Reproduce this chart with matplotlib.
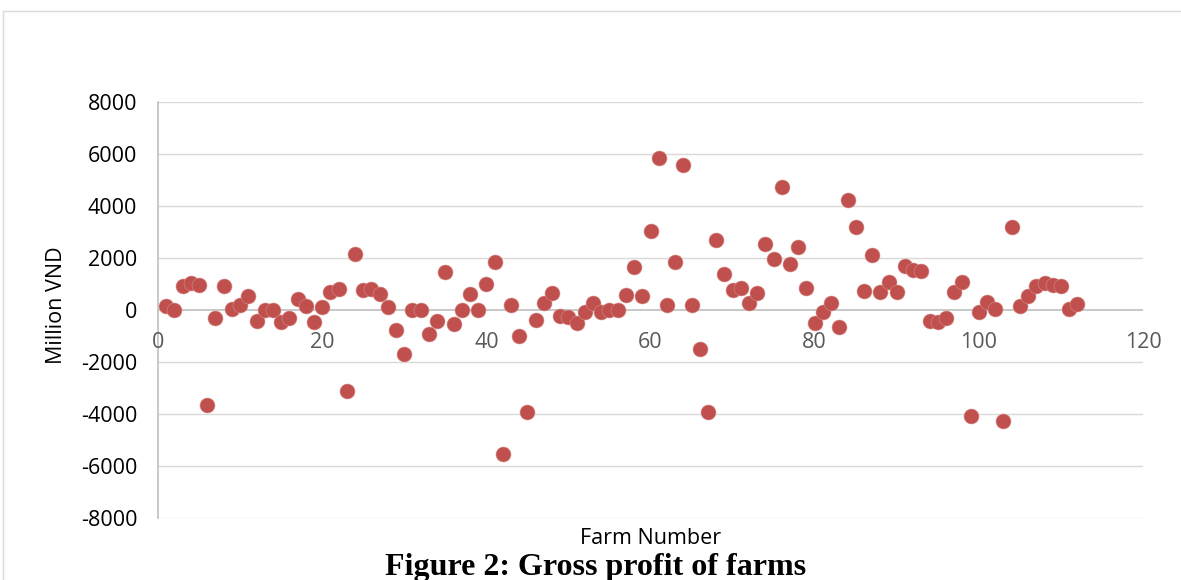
import matplotlib
matplotlib.use("Agg")
import matplotlib.pyplot as plt
from matplotlib.patches import Rectangle

farm = list(range(1, 113))
profit = [
    141, 0, 911, 1027, 975, -3660, -308, 924, 38, 205,
    552, -411, 0, 13, -449, -321, 424, 167, -462, 103,
    706, 809, -3106, 2144, 783, 809, 629, 103, -770, -1694,
    0, 0, -924, -424, 1476, -552, 0, 616, 0, 1001,
    1848, -5546, 180, -988, -3941, -398, 257, 655, -244, -282,
    -500, -77, 270, -77, 0, 0, 578, 1669, 552, 3030,
    5854, 205, 1848, 5584, 180, -1502, -3941, 2709, 1374, 770,
    834, 282, 642, 2555, 1964, 4737, 1772, 2439, 847, -488,
    -77, 270, -655, 4249, 3209, 719, 2131, 680, 1078, 680,
    1707, 1540, 1489, -411, -449, -308, 680, 1078, -4082, -77,
    321, 38, -4262, 3209, 154, 552, 937, 1027, 975, 911,
    38, 231,
]
x_ticks = [0, 20, 40, 60, 80, 100, 120]
y_ticks = [-8000, -6000, -4000, -2000, 0, 2000, 4000, 6000, 8000]

W, H = 1181, 580
fig = plt.figure(figsize=(W / 100, H / 100), dpi=100)
fig.patch.set_facecolor("white")

# outer chart frame
fig.patches.append(Rectangle((3.0 / W, -0.1), 1.2, 1 - 11.0 / H + 0.1,
                             transform=fig.transFigure, fill=False,
                             edgecolor="#d9d9d9", linewidth=1.0))

L, R, T, B = 158, 1143, 102, 518
ax = fig.add_axes([L / W, 1 - B / H, (R - L) / W, (B - T) / H])
ax.set_xlim(0, 120)
ax.set_ylim(-8000, 8000)

font = "Open Sans"
fs = 15.5

for yv in y_ticks:
    if yv != 0:
        ax.axhline(yv, color="#d9d9d9", linewidth=1.0, zorder=1)
ax.axhline(0, color="#bfbfbf", linewidth=1.2, zorder=1)

for s in ["top", "right", "bottom"]:
    ax.spines[s].set_visible(False)
ax.spines["left"].set_color("#bfbfbf")
ax.spines["left"].set_linewidth(1.2)

ax.scatter(farm, profit, s=116, color="#c0504d", edgecolors="#d68c8a",
           linewidths=0.4, zorder=3, clip_on=False)

ax.set_yticks(y_ticks)
ax.set_yticklabels([str(v) for v in y_ticks], fontfamily=font, fontsize=fs,
                   color="black")
ax.tick_params(axis="y", length=0, pad=15)

ax.set_xticks(x_ticks)
ax.set_xticklabels([])
ax.tick_params(axis="x", length=0)
for xv in x_ticks:
    ax.text(xv, -1250, str(xv), ha="center", va="center", fontfamily=font,
            fontsize=fs, color="#595959")

fig.text(57 / W, 1 - 305 / H, "Million VND", rotation=90, ha="center",
         va="center", fontfamily=font, fontsize=fs, color="black")
fig.text(651 / W, 1 - 539 / H, "Farm Number", ha="center", va="center",
         fontfamily=font, fontsize=fs, color="black")
fig.text(596 / W, 1 - 567 / H, "Figure 2: Gross profit of farms",
         ha="center", va="center", fontfamily="Liberation Serif",
         fontweight="bold", fontsize=23, color="black")

fig.savefig("out.png", dpi=100, facecolor="white")
